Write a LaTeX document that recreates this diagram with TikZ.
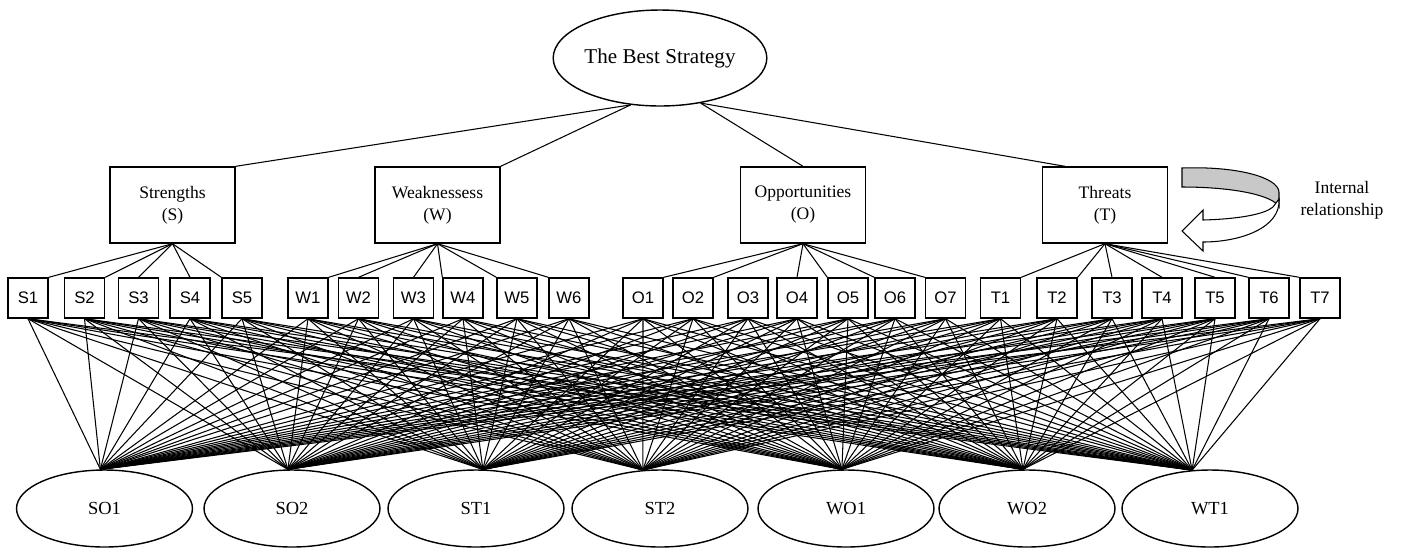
\documentclass[tikz,border=0pt]{standalone}
\usepackage{fontspec}
\setmainfont{Liberation Serif}
\newfontfamily\arialfont{Liberation Sans}
\usepackage{tikz}
\usetikzlibrary{shapes.geometric}
\definecolor{ribbongray}{RGB}{200, 200, 200}

\begin{document}
\begin{tikzpicture}[
    x=0.02cm, y=-0.02cm,
    goal/.style={ellipse, draw, line width=0.8pt, minimum width=4.24cm, minimum height=1.92cm, inner sep=0pt, font=\fontsize{12}{14}\selectfont},
    box/.style={rectangle, draw, line width=0.8pt, minimum width=2.5cm, minimum height=1.52cm, align=center, inner sep=0pt, font=\fontsize{10}{12.5}\selectfont},
    smallbox/.style={rectangle, draw, line width=0.8pt, minimum width=0.8cm, minimum height=0.8cm, inner sep=0pt, font=\arialfont\fontsize{9.5}{11}\selectfont},
    strat/.style={ellipse, draw, line width=0.8pt, minimum width=3.52cm, minimum height=1.54cm, inner sep=0pt, font=\fontsize{10.5}{12}\selectfont},
    line/.style={line width=0.6pt}
]
    \useasboundingbox (0,0) rectangle (1403,549);

    % Goal
    \node[goal] (best) at (660, 58) {The Best Strategy};

    % SWOT groups
    \node[box] (str) at (172.5, 205) {Strengths\\(S)};
    \node[box] (wea) at (437.5, 205) {Weaknessess\\(W)};
    \node[box] (opp) at (803, 205) {Opportunities\\(O)};
    \node[box] (thr) at (1105, 205) {Threats\\(T)};

    \draw[line] (best.238) -- (str.north east);
    \draw[line] (best.238) -- (wea.north east);
    \draw[line] (best.312) -- (opp.north);
    \draw[line] (best.312) -- (thr.136);

    % Internal relationship
    \draw[line width=0.6pt, fill=ribbongray] (1182,168) .. controls (1236,166) and (1278,177) .. (1279,192)
        -- (1279,207) .. controls (1274,196) and (1236,187) .. (1182,187) -- cycle;
    \draw[line width=0.6pt, fill=white] (1279,199) .. controls (1281,228) and (1240,242) .. (1203,242)
        -- (1203,251) -- (1182,231) -- (1203,210) -- (1203,220)
        .. controls (1240,219) and (1265,214) .. (1273,207) -- cycle;
    \node[align=center, font=\fontsize{10}{12.5}\selectfont] (intrel) at (1342, 200) {Internal\\relationship};

    % Sub-factors
    \foreach \n/\x in {S1/28, S2/84.5, S3/138.5, S4/190, S5/242,
                       W1/308, W2/358.5, W3/413.5, W4/463, W5/517, W6/569,
                       O1/643, O2/693, O3/748, O4/797, O5/848, O6/895, O7/945.5,
                       T1/1000.5, T2/1057, T3/1112, T4/1162, T5/1215, T6/1269, T7/1320}
        \node[smallbox] (\n) at (\x, 298) {\n};

    \foreach \c/\a in {S1/north east, S2/north east, S3/north, S4/north, S5/north west}
        \draw[line] (str.south) -- (\c.\a);
    \foreach \c/\a in {W1/north east, W2/north, W3/north, W4/north west, W5/north west, W6/north west}
        \draw[line] (wea.south) -- (\c.\a);
    \foreach \c/\a in {O1/north east, O2/north east, O4/north, O5/north west, O6/north west, O7/north west}
        \draw[line] (opp.south) -- (\c.\a);
    \foreach \c/\a in {T1/north east, T2/north east, T3/north, T4/north, T5/north, T6/north west, T7/north west}
        \draw[line] (thr.south) -- (\c.\a);

    % Strategies
    \node[strat] (so1) at (104.5, 508.5) {SO1};
    \node[strat] (so2) at (292, 508.5) {SO2};
    \node[strat] (st1) at (476, 508.5) {ST1};
    \node[strat] (st2) at (660, 508.5) {ST2};
    \node[strat] (wo1) at (846, 508.5) {WO1};
    \node[strat] (wo2) at (1027, 508.5) {WO2};
    \node[strat] (wt1) at (1210, 508.5) {WT1};

    \foreach \b in {S1,S2,S3,S4,S5,W1,W2,W3,W4,W5,W6,O1,O2,O3,O4,O5,O6,O7,T1,T2,T3,T4,T5,T6,T7}
        \foreach \e/\a in {so1/96, so2/96, st1/80, st2/114, wo1/96, wo2/96, wt1/115}
            \draw[line] (\b.south) -- (\e.\a);

\end{tikzpicture}
\end{document}
